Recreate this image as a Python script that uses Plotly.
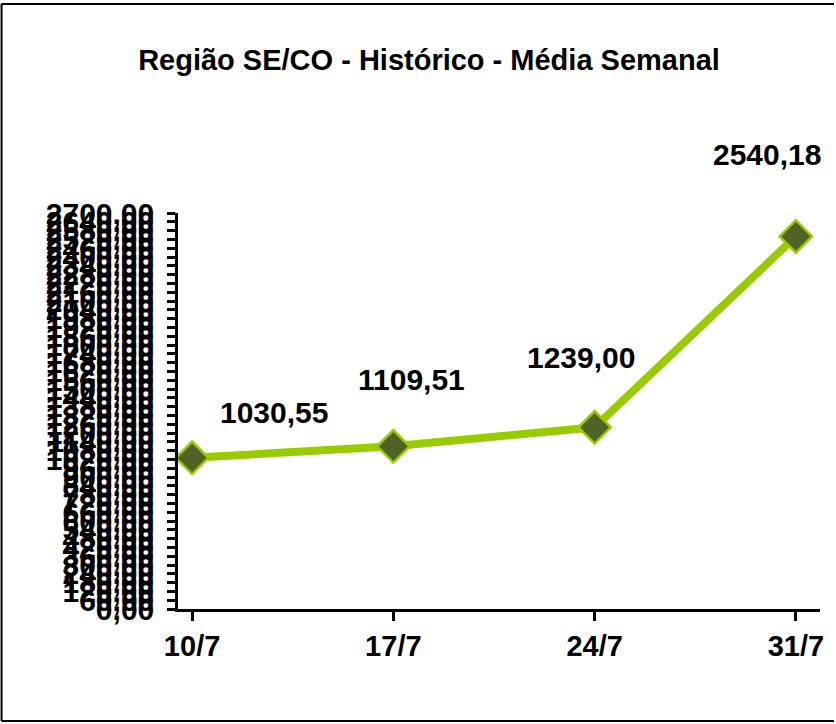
import plotly.graph_objects as go

# Data
categories = ["10/7", "17/7", "24/7", "31/7"]
values = [1030.55, 1109.51, 1239.00, 2540.18]
title_text = "Região SE/CO - Histórico - Média Semanal"

# Layout constants (pixels)
W, H = 836, 724
ML, MR, MT, MB = 178, 14, 213, 115
PW, PH = W - ML - MR, H - MT - MB

def xp(px):
    return (px - ML) / PW

def yp(py):
    return (H - MB - py) / PH

font_family = "Liberation Sans, Arial, sans-serif"
xs = list(range(len(categories)))

fig = go.Figure()
fig.add_trace(go.Scatter(
    x=xs, y=values, mode="lines+markers",
    line=dict(color="#99CC00", width=8),
    marker=dict(symbol="diamond", size=25, color="#4F6228",
                line=dict(color="#99CC00", width=2.5)),
    hoverinfo="skip", showlegend=False,
))

# data labels
label_shifts = [(82, 45), (18, 67), (-14, 70), (-29, 82)]
for x, v, (dx, dy) in zip(xs, values, label_shifts):
    fig.add_annotation(
        x=x, y=v, text=f"{v:.2f}".replace(".", ","), showarrow=False,
        xshift=dx, yshift=dy,
        font=dict(family=font_family, size=30, color="black", weight="bold"),
    )

fig.update_layout(
    width=W, height=H,
    margin=dict(l=ML, r=MR, t=MT, b=MB),
    paper_bgcolor="white", plot_bgcolor="white",
    separators=",.",
    title=dict(text=title_text, xref="container", yref="container",
               x=429 / W, y=1 - 60 / H, xanchor="center", yanchor="middle",
               font=dict(family=font_family, size=29, color="black", weight="bold")),
    xaxis=dict(
        range=[-0.07, 3.12], tickmode="array", tickvals=xs, ticktext=categories,
        showgrid=False, zeroline=False, showline=True, linecolor="black", linewidth=2.5,
        ticks="outside", ticklen=9, tickwidth=2.5, tickcolor="black",
        tickfont=dict(family=font_family, size=29, color="black", weight="bold"),
        ticklabelstandoff=0,
    ),
    yaxis=dict(
        range=[0, 2700], tickmode="linear", tick0=0, dtick=60, tickformat=".2f",
        showgrid=False, zeroline=False, showline=True, linecolor="black", linewidth=2.5,
        ticks="outside", ticklen=8, tickwidth=2.5, tickcolor="black",
        tickfont=dict(family=font_family, size=30, color="black", weight="bold"),
        ticklabelstandoff=7,
    ),
    shapes=[
        dict(type="line", xref="paper", yref="paper", x0=xp(1), x1=xp(1), y0=yp(4), y1=yp(721),
             line=dict(color="black", width=2)),
        dict(type="line", xref="paper", yref="paper", x0=xp(1), x1=xp(836), y0=yp(4), y1=yp(4),
             line=dict(color="black", width=2)),
        dict(type="line", xref="paper", yref="paper", x0=xp(1), x1=xp(836), y0=yp(721), y1=yp(721),
             line=dict(color="black", width=2)),
    ],
)

fig.write_html("out.html", config={"displayModeBar": False},
               post_script="document.body.style.margin='0';")
